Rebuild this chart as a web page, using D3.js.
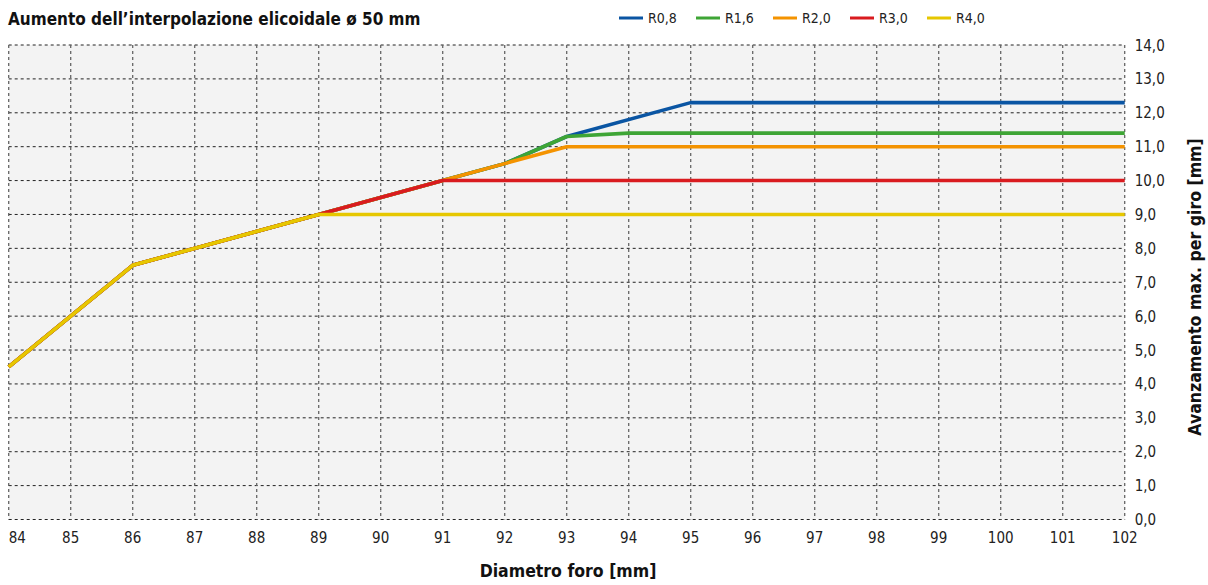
<!DOCTYPE html>
<html><head><meta charset="utf-8">
<script src="https://cdn.jsdelivr.net/npm/d3@7"></script>
<style>body{margin:0;background:#fff;} text{font-family:"DejaVu Sans Condensed","DejaVu Sans",sans-serif;font-stretch:condensed;}</style>
</head><body><svg id="c" width="1208" height="585"></svg>
<script>
const title = "Aumento dell\u2019interpolazione elicoidale \u00f8 50 mm";
const xTitle = "Diametro foro [mm]";
const yTitle = "Avanzamento max. per giro [mm]";
const xTicks = [84,85,86,87,88,89,90,91,92,93,94,95,96,97,98,99,100,101,102];
const yTicks = [0,1,2,3,4,5,6,7,8,9,10,11,12,13,14];
const seriesNames = ["R0,8","R1,6","R2,0","R3,0","R4,0"];
const seriesColors = ["#0a55a3","#3ea535","#f49300","#d91b1f","#e6c700"];
const r08 = [[84,4.5],[86,7.5],[89,9.0],[91,10.0],[92,10.5],[93,11.3],[95,12.3],[102,12.3]];
const r16 = [[84,4.5],[86,7.5],[89,9.0],[91,10.0],[92,10.5],[93,11.3],[94,11.4],[102,11.4]];
const r20 = [[84,4.5],[86,7.5],[89,9.0],[91,10.0],[92,10.5],[93,11.0],[102,11.0]];
const r30 = [[84,4.5],[86,7.5],[89,9.0],[91,10.0],[102,10.0]];
const r40 = [[84,4.5],[86,7.5],[89,9.0],[102,9.0]];
const seriesData = [r08,r16,r20,r30,r40];

const svg = d3.select("#c");
const L=8.7, R=1124.7, T=45, B=519.5;
const x = d3.scaleLinear().domain([84,102]).range([L,R]);
const y = d3.scaleLinear().domain([0,14]).range([B,T]);

svg.append("rect").attr("x",L).attr("y",T).attr("width",R-L).attr("height",B-T).attr("fill","#f3f3f3");

svg.append("g").selectAll("line").data(yTicks).join("line")
  .attr("x1",L).attr("x2",R).attr("y1",d=>y(d)).attr("y2",d=>y(d))
  .attr("stroke","#222").attr("stroke-width",1).attr("stroke-dasharray","3,3");
svg.append("g").selectAll("line").data(xTicks).join("line")
  .attr("x1",d=>x(d)).attr("x2",d=>x(d)).attr("y1",T).attr("y2",B)
  .attr("stroke","#666").attr("stroke-width",1.3).attr("stroke-dasharray","3,3");

const line = d3.line().x(d=>x(d[0])).y(d=>y(d[1]));
seriesData.forEach((s,i)=>{
  svg.append("path").datum(s).attr("d",line).attr("fill","none")
    .attr("stroke",seriesColors[i]).attr("stroke-width",3.6).attr("stroke-linejoin","round");
});

svg.append("g").selectAll("text").data(yTicks).join("text")
  .attr("x",R+10).attr("y",d=>y(d)+5.5).attr("font-size",15).attr("fill","#222")
  .text(d=>d.toFixed(1).replace(".",","));
svg.append("g").selectAll("text").data(xTicks).join("text")
  .attr("x",d=>d===84?L:x(d)).attr("y",543).attr("font-size",15).attr("fill","#222")
  .attr("text-anchor",d=>d===84?"start":"middle").text(d=>d);

svg.append("text").attr("x",8).attr("y",25).attr("font-size",17).attr("font-weight","bold").attr("fill","#111").text(title);
svg.append("text").attr("x",568).attr("y",577).attr("text-anchor","middle").attr("font-size",17.5).attr("font-weight","bold").attr("fill","#111").text(xTitle);
svg.append("text").attr("transform",`translate(1201,287) rotate(-90)`).attr("text-anchor","middle").attr("font-size",17.5).attr("font-weight","bold").attr("fill","#111").text(yTitle);

const lg = svg.append("g");
seriesNames.forEach((n,i)=>{
  const lx = 619 + i*77;
  lg.append("line").attr("x1",lx).attr("x2",lx+24).attr("y1",18).attr("y2",18).attr("stroke",seriesColors[i]).attr("stroke-width",3);
  lg.append("text").attr("x",lx+29).attr("y",23).attr("font-size",14).attr("fill","#222").text(n);
});
</script></body></html>
